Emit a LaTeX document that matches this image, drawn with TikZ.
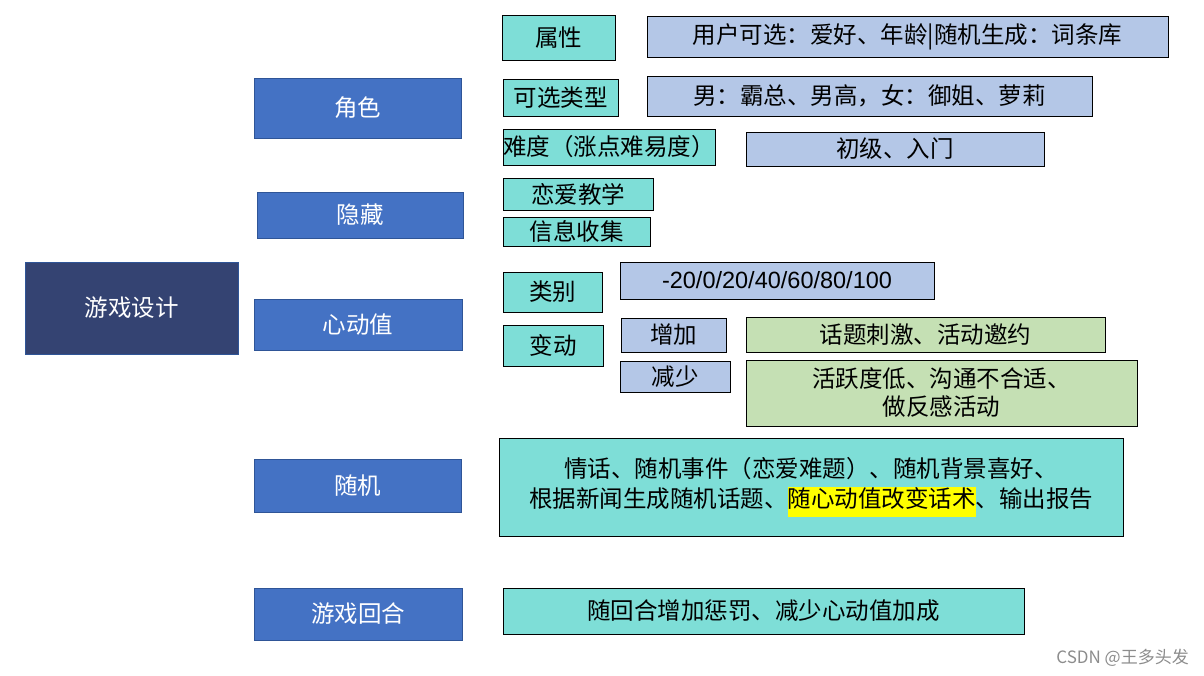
\documentclass[tikz,border=0pt]{standalone}
\usepackage{fontspec}
\setmainfont{Noto Sans CJK SC}
\newfontfamily\arialf{Liberation Sans}
\definecolor{navyfill}{HTML}{344372}
\definecolor{blueborder}{HTML}{2F5597}
\definecolor{bluefill}{HTML}{4472C4}
\definecolor{tealfill}{HTML}{7EDED7}
\definecolor{lavfill}{HTML}{B4C7E7}
\definecolor{greenfill}{HTML}{C5E0B4}
\definecolor{hlyellow}{HTML}{FFFF00}
\newcommand{\yhl}[1]{{\setlength{\fboxsep}{0pt}\colorbox{hlyellow}{\strut #1}}}
\tikzset{
  base/.style={rectangle, inner sep=0pt, line width=0.9pt, align=center,
    font=\fontsize{23.5}{30}\selectfont},
  navybox/.style={base, fill=navyfill, draw=blueborder, text=white},
  bluebox/.style={base, fill=bluefill, draw=blueborder, text=white},
  tealbox/.style={base, fill=tealfill, draw=black, text=black},
  lavbox/.style={base, fill=lavfill, draw=black, text=black},
  greenbox/.style={base, fill=greenfill, draw=black, text=black},
}
\begin{document}
\begin{tikzpicture}[x=1pt,y=-1pt]
\useasboundingbox (0,0) rectangle (1204,676);
% left column
\node[navybox, minimum width=213pt, minimum height=92pt] (main) at (131.5,308) {游戏设计};
\node[bluebox, minimum width=207pt, minimum height=60pt] (juese) at (357.5,108) {角色};
\node[bluebox, minimum width=206pt, minimum height=46pt] (yincang) at (360,215) {隐藏};
\node[bluebox, minimum width=208pt, minimum height=51pt] (xindong) at (358,324.5) {心动值};
\node[bluebox, minimum width=207pt, minimum height=53pt] (suiji) at (357.5,485.5) {随机};
\node[bluebox, minimum width=208pt, minimum height=52pt] (huihe) at (358,614) {游戏回合};
% teal column
\node[tealbox, minimum width=113pt, minimum height=45pt] (shuxing) at (558.5,37.5) {属性};
\node[tealbox, minimum width=115pt, minimum height=37pt] (kexuan) at (560.5,97.5) {可选类型};
\node[tealbox, minimum width=212pt, minimum height=36pt] (nandu) at (609,147) {难度（涨点难易度）};
\node[tealbox, minimum width=150pt, minimum height=32pt] (lianai) at (578,194) {恋爱教学};
\node[tealbox, minimum width=147pt, minimum height=29pt] (xinxi) at (576.5,231.5) {信息收集};
\node[tealbox, minimum width=99pt, minimum height=40pt] (leibie) at (552.5,292) {类别};
\node[tealbox, minimum width=100pt, minimum height=41pt] (biandong) at (553,345.5) {变动};
\node[tealbox, minimum width=624pt, minimum height=98pt] (suijitext) at (811,487)
  {情话、随机事件（恋爱难题）、随机背景喜好、\\根据新闻生成随机话题、\yhl{随心动值改变话术}、输出报告};
\node[tealbox, minimum width=521pt, minimum height=46pt] (huihetext) at (763.5,611) {随回合增加惩罚、减少心动值加成};
% lavender
\node[lavbox, minimum width=521pt, minimum height=41pt] (yonghu) at (907.5,36.5) {用户可选：爱好、年龄|随机生成：词条库};
\node[lavbox, minimum width=445pt, minimum height=40pt] (nan) at (869.5,96) {男：霸总、男高，女：御姐、萝莉};
\node[lavbox, minimum width=298pt, minimum height=34pt] (chuji) at (895,149) {初级、入门};
\node[lavbox, minimum width=314pt, minimum height=37pt, font=\arialf\fontsize{23.5}{28}\selectfont] (range) at (777,280.5) {-20/0/20/40/60/80/100};
\node[lavbox, minimum width=105pt, minimum height=34pt] (zengjia) at (673.5,335) {增加};
\node[lavbox, minimum width=110pt, minimum height=31pt] (jianshao) at (675,376.5) {减少};
% green
\node[greenbox, minimum width=359pt, minimum height=35pt] (huati) at (925.5,334.5) {话题刺激、活动邀约};
\node[greenbox, minimum width=391pt, minimum height=66pt, font=\fontsize{23.5}{28}\selectfont] (huoyue) at (941.5,393) {活跃度低、沟通不合适、\\做反感活动};
% watermark
\node[anchor=east, inner sep=0pt, text=black!45, font=\fontsize{17}{20}\selectfont] (wm) at (1189,658) {CSDN @王多头发};
\end{tikzpicture}
\end{document}
